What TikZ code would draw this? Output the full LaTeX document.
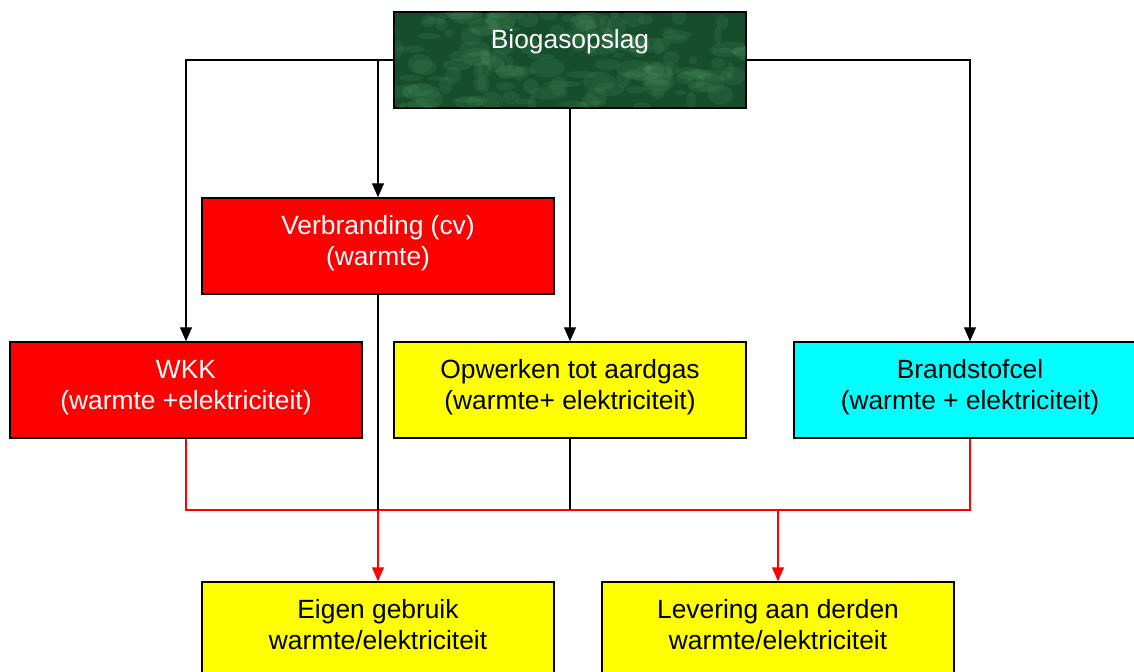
\documentclass[tikz,border=0pt]{standalone}
\usepackage{fontspec}
\setmainfont{Liberation Sans}
\usetikzlibrary{positioning, arrows.meta, calc}
\definecolor{biogreen}{RGB}{22,78,44}
\definecolor{biospot}{RGB}{95,165,115}
\definecolor{boxred}{RGB}{255,0,0}
\definecolor{boxyellow}{RGB}{255,255,0}
\definecolor{boxcyan}{RGB}{0,255,255}

\begin{document}
\begin{tikzpicture}
  [
    x = 0.02cm, y = -0.02cm,
    box/.style = {draw, line width=0.85pt, minimum width=7.04cm, minimum height=1.92cm, inner sep=0pt},
    txt/.style = {align=center, inner sep=0pt, font=\fontsize{15}{17.6}\selectfont},
    arr/.style = {-{Triangle[width=0.24cm, length=0.28cm]}},
    line/.style = {line width=0.75pt}
  ]
  \useasboundingbox (0,0) rectangle (1134,672);
  \clip (0,0) rectangle (1134,672);
  % boxes
  \node[box, fill=biogreen]  (bio)   at (570,60)  {};
  \node[box, fill=boxred]    (verb)  at (378,246) {};
  \node[box, fill=boxred]    (wkk)   at (186,390) {};
  \node[box, fill=boxyellow] (opw)   at (570,390) {};
  \node[box, fill=boxcyan]   (brand) at (970,390) {};
  \node[box, fill=boxyellow] (eigen) at (378,630) {};
  \node[box, fill=boxyellow] (lev)   at (778,630) {};
  % marble texture of the storage box
  \begin{scope}
    \clip (bio.south west) rectangle (bio.north east);
    \pgfmathsetseed{7}
    \foreach \i in {1,...,160}
      \fill[biospot, opacity=0.13]
        ($(bio.center)+(rand*180,rand*50)$) ellipse ({3+rnd*16} and {2+rnd*8});
  \end{scope}
  \draw[line width=0.85pt] (bio.south west) rectangle (bio.north east);
  % texts
  \node[txt, white, below=0.3cm of bio.north]   (biotxt)   {\strut Biogasopslag};
  \node[txt, white, below=0.3cm of verb.north]  (verbtxt)  {\strut Verbranding (cv)\\(warmte)};
  \node[txt, white, below=0.3cm of wkk.north]   (wkktxt)   {\strut WKK\\(warmte +elektriciteit)};
  \node[txt, below=0.3cm of opw.north]          (opwtxt)   {\strut Opwerken tot aardgas\\(warmte+ elektriciteit)};
  \node[txt, below=0.3cm of brand.north]        (brandtxt) {\strut Brandstofcel\\(warmte + elektriciteit)};
  \node[txt, below=0.3cm of eigen.north]        (eigentxt) {\strut Eigen gebruik\\warmte/elektriciteit};
  \node[txt, below=0.3cm of lev.north]          (levtxt)   {\strut Levering aan derden\\warmte/elektriciteit};
  % connectors
  \draw[line, arr] (bio.west) -| (wkk.north);
  \draw[line, arr] (bio.west -| verb.north) -- (verb.north);
  \draw[line, arr] (bio.south) -- (opw.north);
  \draw[line, arr] (bio.east) -| (brand.north);
  \coordinate (bus) at (570,510);
  \draw[line, red] (wkk.south) |- (verb.south |- bus);
  \draw[line, red] (brand.south) |- ([xshift=0.14cm]lev.north |- bus);
  \draw[red, line width=1.3pt] (verb.south |- bus) -- ([xshift=0.14cm]lev.north |- bus);
  \draw[line] (verb.south) -- (verb.south |- bus);
  \draw[line] (opw.south) -- (bus);
  \draw[line, red, arr] (verb.south |- bus) -- (eigen.north);
  \draw[line, red, arr] (lev.north |- bus) -- (lev.north);
\end{tikzpicture}
\end{document}
